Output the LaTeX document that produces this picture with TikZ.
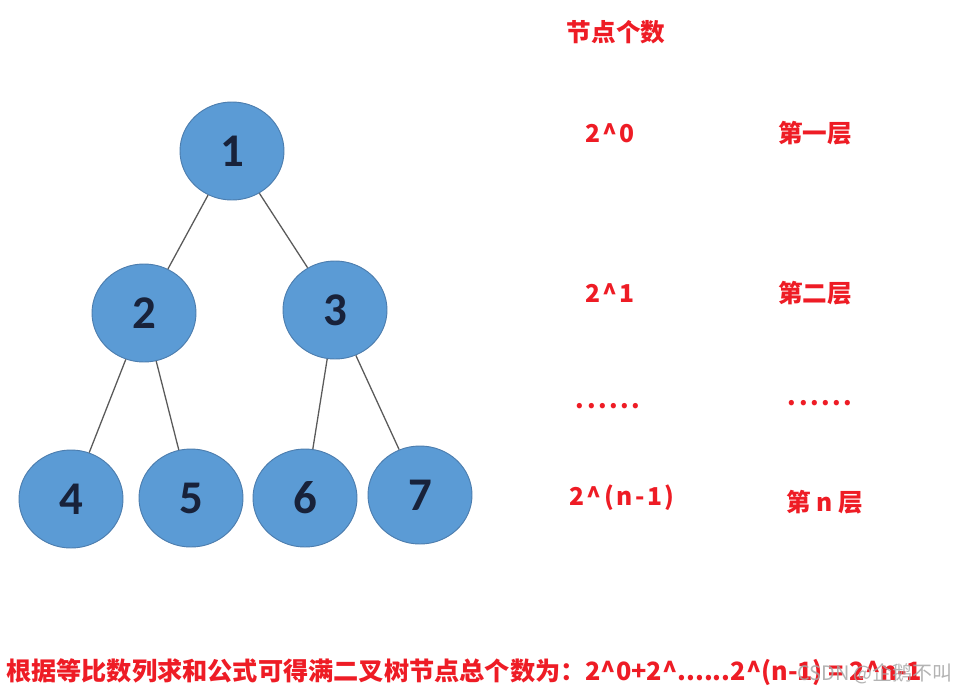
\documentclass[tikz,border=0pt]{standalone}
\usepackage{fontspec}
\setmainfont{Carlito}
\newfontfamily\cjk{Noto Sans CJK SC}
\usetikzlibrary{shapes.geometric}
\definecolor{nodeblue}{HTML}{5B9BD5}
\definecolor{nodeline}{HTML}{4C7DAE}
\definecolor{numink}{HTML}{18223A}
\definecolor{edgegray}{HTML}{5A5A5A}
\definecolor{redtxt}{HTML}{EE1C25}
\newcommand\widenum[1]{{\addfontfeature{LetterSpace=10}#1}} % 数字加宽

\begin{document}
\begin{tikzpicture}[x=0.03cm,y=-0.03cm,
  treenode/.style={ellipse,draw=nodeline,line width=0.8pt,fill=nodeblue,
    minimum width=3.12cm,minimum height=2.94cm,inner sep=0pt,
    text=numink,font=\bfseries\fontsize{40}{40}\selectfont},
  edge/.style={draw=edgegray,line width=1.1pt},
  redlabel/.style={text=redtxt,inner sep=0pt,
    font=\cjk\bfseries\fontsize{21}{21}\selectfont},
  mark text/.style={text=gray!70,inner sep=0pt,opacity=0.85,
    font=\cjk\fontsize{17}{17}\selectfont}]
  \useasboundingbox (0,0) rectangle (959,695); % 画布范围

  \node[treenode] (n1) at (232,151) {1}; % 第一层
  \node[treenode] (n2) at (144,313) {2}; % 第二层左
  \node[treenode] (n3) at (335,310) {3}; % 第二层右
  \node[treenode] (n4) at (71,499) {4};
  \node[treenode] (n5) at (191,498) {5};
  \node[treenode] (n6) at (305,498) {6};
  \node[treenode] (n7) at (420,495) {7};

  \draw[edge] (n1) -- (n2); % 连线
  \draw[edge] (n1) -- (n3);
  \draw[edge] (n2) -- (n4);
  \draw[edge] (n2) -- (n5);
  \draw[edge] (n3) -- (n6);
  \draw[edge] (n3) -- (n7);

  \node[redlabel] (cnt) at (616,32) {节点个数}; % 表头
  \node[redlabel] (num0) at (610,133) {\widenum{2\^{}0}};
  \node[redlabel] (lay0) at (815,133) {第一层};
  \node[redlabel] (num1) at (610,293) {\widenum{2\^{}1}};
  \node[redlabel] (lay1) at (815,293) {第二层};
  \node[redlabel] (dotsl) at (608,406) {\widenum{......}}; % 省略
  \node[redlabel] (dotsr) at (820,403) {\widenum{......}};
  \node[redlabel] (numn) at (622,498) {\widenum{2\^{}(n-1)}};
  \node[redlabel] (layn) at (825,502) {第 n 层};

  \node[redlabel,anchor=west,font=\cjk\bfseries\fontsize{21.5}{21.5}\selectfont] (sum) at (6,672)
    {根据等比数列求和公式可得满二叉树节点总个数为：2\^{}0+2\^{}......2\^{}(n-1) = 2\^{}n-1}; % 求和
  \node[mark text,anchor=west] (mark) at (797,674) {CSDN @企鹅不叫}; % 水印
\end{tikzpicture}
\end{document}
